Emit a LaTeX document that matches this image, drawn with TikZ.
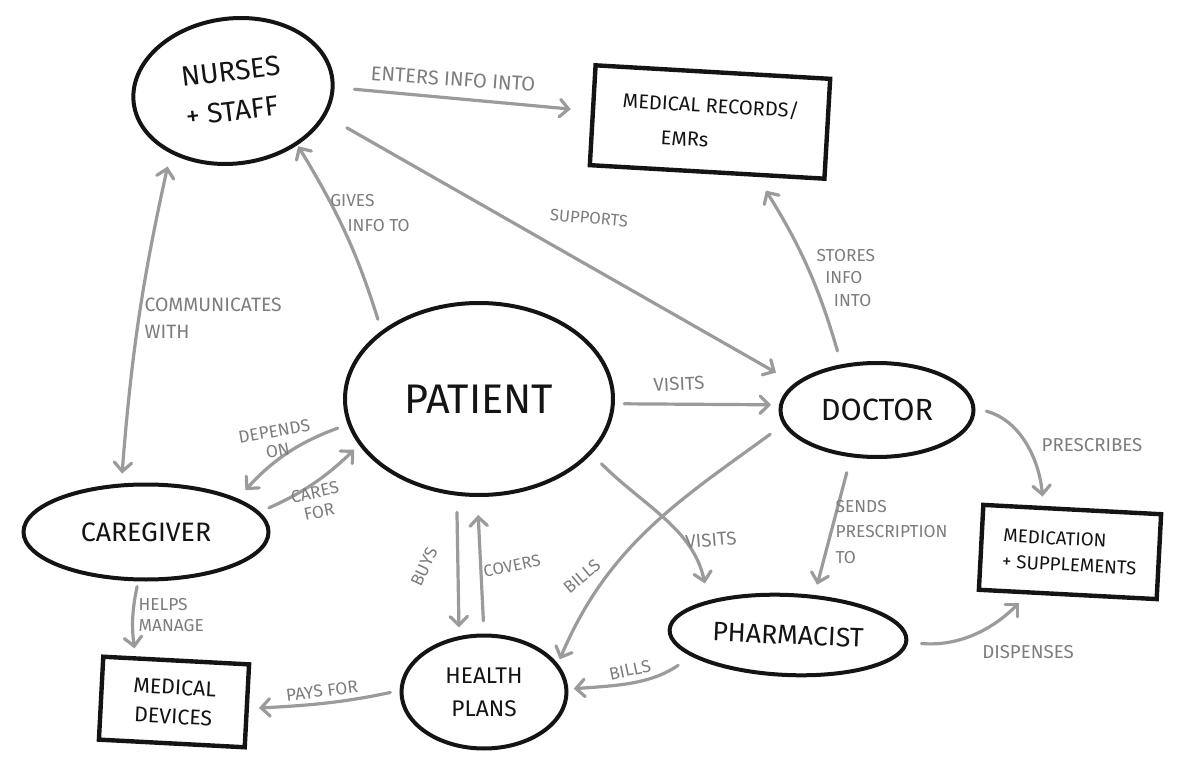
\documentclass[tikz,border=0pt]{standalone}
\usepackage{fontspec}
\setmainfont{Fira Sans}
\usetikzlibrary{arrows.meta,shapes.geometric}
\definecolor{ln}{RGB}{155,155,155}
\definecolor{lb}{RGB}{125,125,125}
\definecolor{ink}{RGB}{20,20,20}
\tikzset{
  ell/.style={ellipse, draw=ink, line width=3pt, inner sep=0pt, align=center, text=ink},
  box/.style={rectangle, draw=ink, line width=3.3pt, inner sep=0pt, text=ink},
  arr/.style={draw=ln, line width=2.4pt, line cap=round, -{Straight Barb[length=6.5pt,width=13pt,line cap=round]}},
  lbl/.style={text=lb, font=\fontsize{14}{18}\selectfont, inner sep=1pt},
}
\begin{document}
\begin{tikzpicture}[x=0.75pt,y=-0.75pt]
\fill[white] (0,0) rectangle (1196,773);
\useasboundingbox (0,0) rectangle (1196,773);

% nodes
\node[ell, minimum width=150pt, minimum height=108.75pt, rotate=7, align=left, font=\fontsize{21}{30}\selectfont] (nur) at (233,91) {NURSES\\+ STAFF};
\node[box, minimum width=176.25pt, minimum height=75pt, rotate=-3.3, align=left, font=\fontsize{15}{26}\selectfont] (emr) at (710,122) {MEDICAL RECORDS/\\\hspace{2em}EMRs};
\node[ell, minimum width=201pt, minimum height=144pt, font=\fontsize{31}{36}\selectfont] (pat) at (479,399) {PATIENT};
\node[ell, minimum width=144.75pt, minimum height=70.5pt, font=\fontsize{23}{28}\selectfont] (doc) at (877,410) {DOCTOR};
\node[ell, minimum width=183.75pt, minimum height=71.25pt, font=\fontsize{20}{24}\selectfont] (car) at (146,532) {CAREGIVER};
\node[ell, minimum width=177.75pt, minimum height=60pt, rotate=-2.5, font=\fontsize{20}{24}\selectfont] (pha) at (788,635) {PHARMACIST};
\node[ell, minimum width=123.75pt, minimum height=84.75pt, font=\fontsize{17}{25}\selectfont] (hp) at (484,692) {HEALTH\\PLANS};
\node[box, minimum width=133.5pt, minimum height=63.75pt, rotate=-3, align=left, font=\fontsize{14}{19.5}\selectfont] (med) at (1070,552) {MEDICATION\\+ SUPPLEMENTS};
\node[box, minimum width=109.5pt, minimum height=62.25pt, rotate=-3, align=center, font=\fontsize{16}{22}\selectfont] (dev) at (174,702) {MEDICAL\\DEVICES};

% connectors
\draw[arr, shorten <=15pt, shorten >=15pt] (nur.-5.6) -- (emr.178.3);
\draw[arr, shorten <=18pt, shorten >=16pt] (nur.-22.7) -- (doc.162.6);
\draw[arr, shorten <=9pt, shorten >=1pt] (pat.145) to[bend right=7] (nur.-47.6);
\draw[arr, {Straight Barb[length=6.5pt,width=13pt,line cap=round]}-{Straight Barb[length=6.5pt,width=13pt,line cap=round]}, shorten <=10pt, shorten >=7.5pt] (nur.218.8) to[bend right=4] (car.117);
\draw[arr, shorten <=8pt, shorten >=8.5pt] (pat.191.8) to[bend right=14] (car.20.5);
\draw[arr, shorten <=7.5pt, shorten >=5pt] (car.10.3) to[bend right=10] (pat.201.6);
\draw[arr, shorten <=7pt, shorten >=6pt] (pat.-2.4) -- (doc.177);
\draw[arr, shorten <=10.5pt, shorten >=12pt] (doc.128.7) to[bend right=8] (emr.-46.2);
\draw[arr, shorten <=8.5pt, shorten >=7pt] (doc.1.6) to[out=-15,in=95] (med.123);
\draw[arr, shorten <=12pt, shorten >=8pt] (doc.-119.5) -- (pha.59.9);
\draw[arr, shorten <=10.5pt, shorten >=13pt] (pat.-26.4) to[out=-45,in=102] (pha.159);
\draw[arr, shorten <=12pt, shorten >=3.5pt] (doc.189.5) to[out=216,in=67] (hp.21.5);
\draw[arr, shorten <=12.5pt, shorten >=6.5pt] (pat.-103.2) -- (hp.114.3);
\draw[arr, shorten <=9.5pt, shorten >=13.5pt] (hp.90.8) -- (pat.-91);
\draw[arr, shorten <=12pt, shorten >=4pt] (pha.195.8) to[out=214,in=4] (hp.2.6);
\draw[arr, shorten <=10pt, shorten >=9pt] (pha.-1) to[out=-5,in=225] (med.228.6);
\draw[arr, shorten <=4pt, shorten >=6pt] (car.-99.6) to[bend right=10] (dev.133);
\draw[arr, shorten <=7pt, shorten >=7.5pt] (hp.179.4) to[out=192,in=3] (dev.-2.5);

% labels
\node[lbl, rotate=-4, font=\fontsize{15}{18}\selectfont] (l1) at (453,79) {ENTERS INFO INTO};
\node[lbl, rotate=-5, font=\fontsize{12.5}{16}\selectfont] (l2) at (589,218) {SUPPORTS};
\node[lbl, align=left, font=\fontsize{13}{19}\selectfont] (l3) at (370,213) {GIVES\\\hspace{1em}INFO TO};
\node[lbl, anchor=west, align=left, font=\fontsize{14.5}{20}\selectfont] (l4) at (143,318) {COMMUNICATES\\WITH};
\node[lbl, align=center, rotate=10, font=\fontsize{13}{15}\selectfont] (l5) at (276,441) {DEPENDS\\ON};
\node[lbl, align=center, rotate=12, font=\fontsize{13}{15}\selectfont] (l6) at (317,502) {CARES\\FOR};
\node[lbl, rotate=3] (l7) at (679,384) {VISITS};
\node[lbl, anchor=west, align=left, font=\fontsize{13}{17}\selectfont] (l8) at (815,278) {STORES\\\hspace{0.5em}INFO\\\hspace{1em}INTO};
\node[lbl] (l9) at (1092,445) {PRESCRIBES};
\node[lbl, anchor=west, align=left, font=\fontsize{13}{19}\selectfont] (l10) at (834,532) {SENDS\\PRESCRIPTION\\TO};
\node[lbl, rotate=5] (l11) at (711,540) {VISITS};
\node[lbl, rotate=40, font=\fontsize{13}{16}\selectfont] (l12) at (582,576) {BILLS};
\node[lbl, rotate=65, font=\fontsize{13}{16}\selectfont] (l13) at (424,567) {BUYS};
\node[lbl, rotate=12, font=\fontsize{12.5}{16}\selectfont] (l14) at (512,566) {COVERS};
\node[lbl, rotate=12, font=\fontsize{13}{16}\selectfont] (l15) at (630,670) {BILLS};
\node[lbl] (l16) at (1028,652) {DISPENSES};
\node[lbl, anchor=west, align=left, font=\fontsize{13}{16}\selectfont] (l17) at (137,615) {HELPS\\MANAGE};
\node[lbl, rotate=7, font=\fontsize{13}{16}\selectfont] (l18) at (322,691) {PAYS FOR};
\end{tikzpicture}
\end{document}
